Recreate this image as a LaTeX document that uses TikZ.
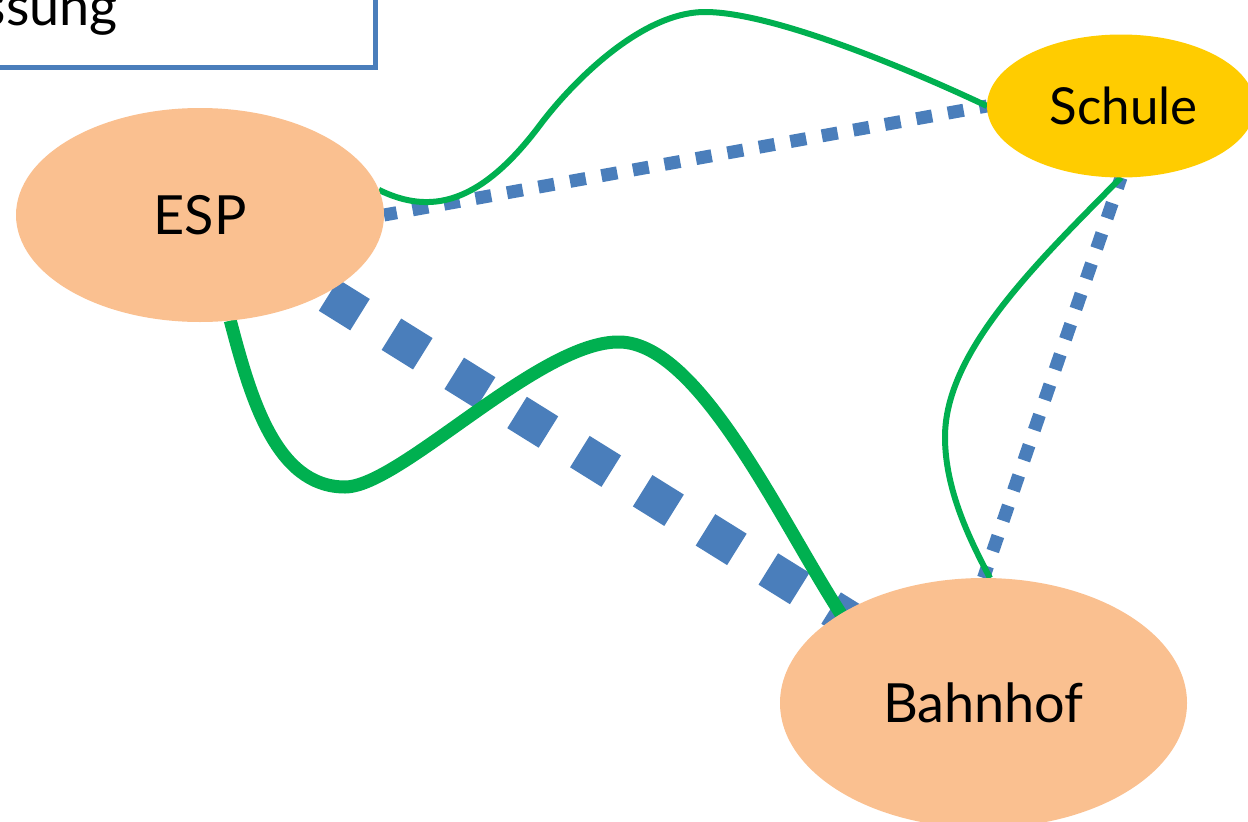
\documentclass[tikz,border=0pt]{standalone}
\usepackage{fontspec}
\setmainfont{Lato}
\usetikzlibrary{shapes.geometric,backgrounds}
\definecolor{peach}{HTML}{FAC090}
\definecolor{gold}{HTML}{FFCC00}
\definecolor{lblue}{HTML}{4A7EBB}
\definecolor{lgreen}{HTML}{00B050}
\begin{document}
\begin{tikzpicture}[x=1pt,y=-1pt,
  place/.style={ellipse, inner sep=0pt, outer sep=0pt, font=\fontsize{54}{64}\selectfont},
  thindots/.style={lblue, line width=13pt, dash pattern=on 16pt off 16pt},
  thickdash/.style={lblue, line width=37pt, dash pattern=on 37pt off 37pt},
  gthin/.style={lgreen, line width=6pt},
  gthick/.style={lgreen, line width=13pt}]
\useasboundingbox (0,0) rectangle (1248,822);

% legend box (cut off by the page edge)
\node[draw=lblue, line width=4.5pt, fill=white, outer sep=0pt, inner sep=0pt,
      minimum width=500pt, minimum height=150pt, anchor=south east] (box) at (375.5,67.5) {};
\node[anchor=base east, inner sep=0pt, font=\fontsize{54}{64}\selectfont] (lbl) at (118,25) {ssung};

% places
\node[place, fill=peach, minimum width=368pt, minimum height=214pt] (ESP) at (200,215) {ESP};
\node[place, fill=gold, minimum width=268pt, minimum height=143pt, font=\fontsize{51}{60}\selectfont] (Schule) at (1121,106) {\hspace*{5pt}Schule};
\node[place, fill=peach, minimum width=407pt, minimum height=250pt] (Bahnhof) at (983.5,703) {Bahnhof};

\begin{pgfonlayer}{background}
  % blue connections
  \draw[thickdash, dash phase=70.5pt] (ESP.center) -- (Bahnhof.center);
  \draw[thindots, dash phase=3pt] (ESP.east) -- (Schule.west);
  \draw[thindots, dash phase=5pt] (Schule.south) -- (Bahnhof.north);
  % green connections
  \draw[gthin] (ESP.8) .. controls (430,215) and (480,205) .. (540,125)
     .. controls (570,85) and (640,12) .. (705,12)
     .. controls (770,12) and (900,65) .. (Schule.west);
  \draw[gthick] (ESP.-74) .. controls (250,395) and (275,487) .. (345,487)
     .. controls (400,487) and (540,340) .. (620,342)
     .. controls (700,344) and (780,520) .. (Bahnhof.148);
  \draw[gthin] (Schule.south) .. controls (1040,260) and (945,350) .. (945,437)
     .. controls (945,490) and (970,540) .. (Bahnhof.87);
\end{pgfonlayer}
\end{tikzpicture}
\end{document}
